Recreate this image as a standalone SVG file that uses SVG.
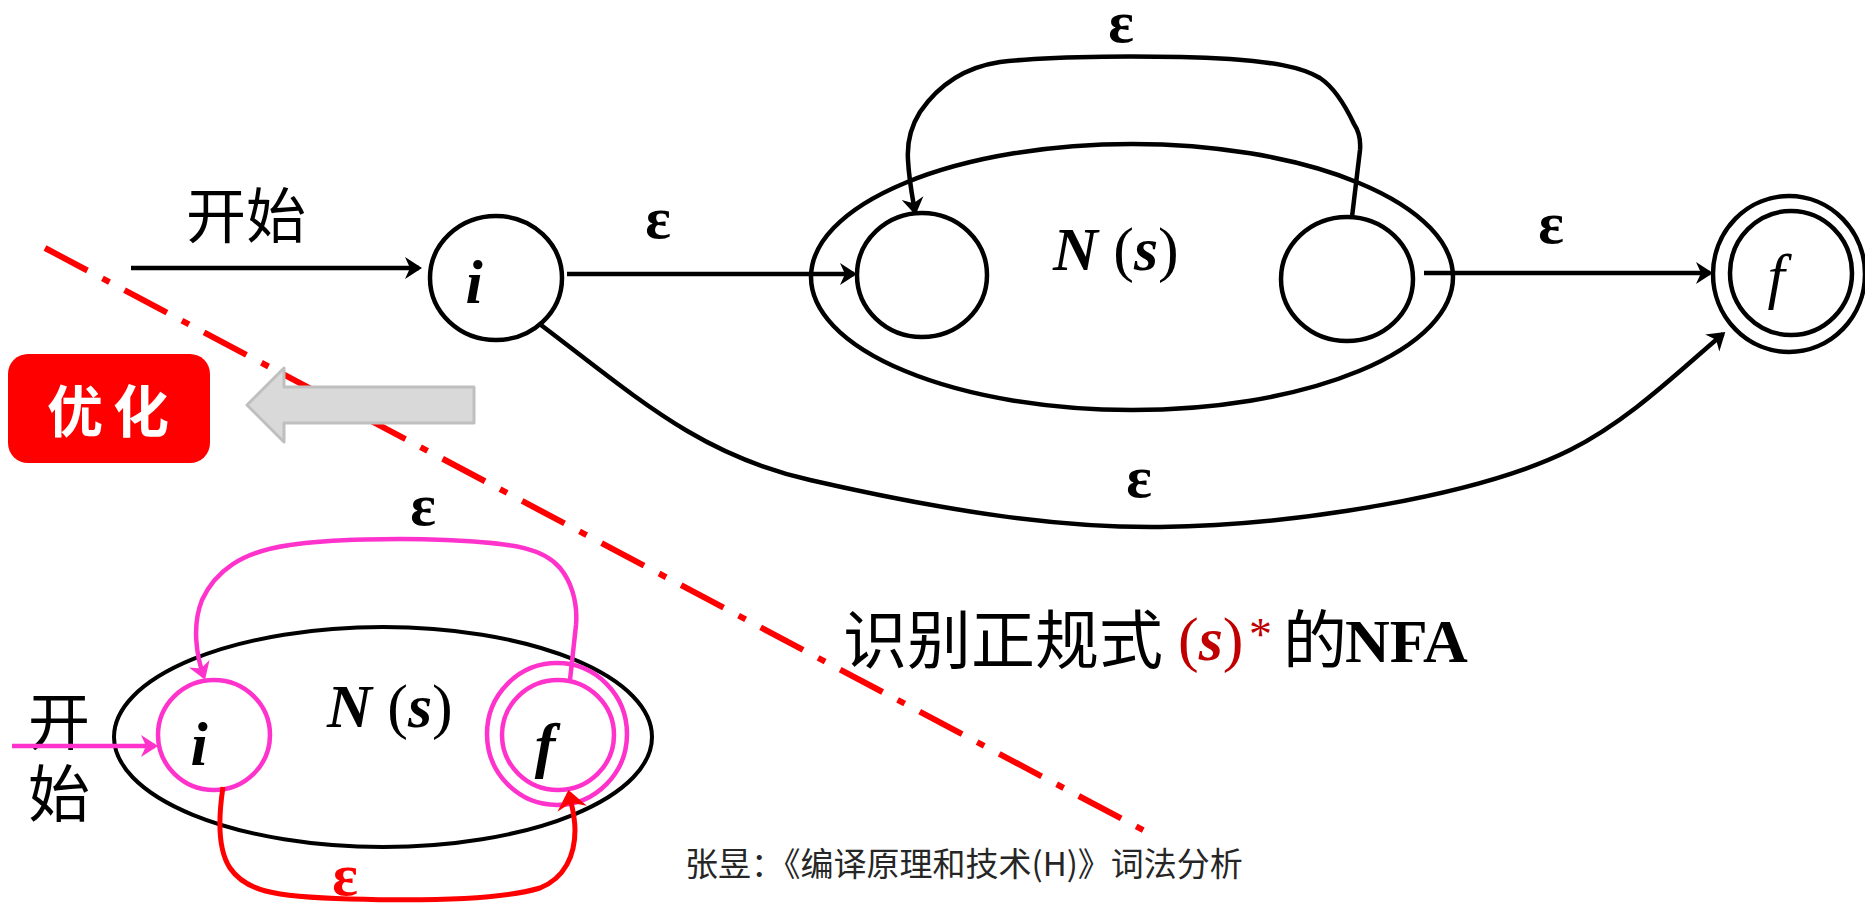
<svg xmlns="http://www.w3.org/2000/svg" width="1865" height="903" viewBox="0 0 1865 903">
<style>
.bk{fill:none;stroke:#000;stroke-width:4.5}
.pk{fill:none;stroke:#FF33CC;stroke-width:4.5}
.rd{fill:none;stroke:#FF0000;stroke-width:5}
.lat{font-family:"Liberation Serif","Times New Roman",serif}
.cjk{font-family:"Noto Sans CJK SC",sans-serif}
.eps{font-family:"Liberation Serif","Times New Roman",serif;font-weight:bold;font-size:60px;text-anchor:middle}
.bi{font-weight:bold;font-style:italic}
</style>
<defs>
<marker id="ab" markerUnits="userSpaceOnUse" markerWidth="30" markerHeight="30" refX="-3" refY="0" orient="auto" overflow="visible">
<path d="M0,0 L-17,-11 L-12,0 L-17,11 Z" fill="#000"/>
</marker>
<marker id="ap" markerUnits="userSpaceOnUse" markerWidth="30" markerHeight="30" refX="-3" refY="0" orient="auto" overflow="visible">
<path d="M0,0 L-17,-11 L-12,0 L-17,11 Z" fill="#FF33CC"/>
</marker>
<marker id="ar" markerUnits="userSpaceOnUse" markerWidth="30" markerHeight="30" refX="-3" refY="0" orient="auto" overflow="visible">
<path d="M0,0 L-19,-15 L-13,0 L-19,15 Z" fill="#FF0000"/>
</marker>
</defs>
<rect width="1865" height="903" fill="#fff"/>

<!-- divider -->
<line x1="45" y1="248" x2="1158" y2="838" stroke="#FF0000" stroke-width="6" stroke-dasharray="48 17 8 17"/>

<!-- optimise box and arrow -->
<g id="opt">
<rect x="8" y="354" width="202" height="109" rx="20" fill="#FF0000"/>
<text class="cjk" x="47" y="432" font-size="56" font-weight="bold" letter-spacing="10" fill="#fff">优化</text>
</g>
<g id="grey-arrow">
<polygon points="247,405 284,368 284,387 474,387 474,423 284,423 284,442" fill="#D9D9D9" stroke="#BFBFBF" stroke-width="3" stroke-linejoin="round"/>
</g>

<!-- upper NFA -->
<g id="ns-top">
<ellipse class="bk" cx="1132" cy="277" rx="321" ry="133"/>
<text class="lat" x="1053" y="270" font-size="62"><tspan class="bi">N</tspan> (<tspan class="bi">s</tspan>)</text>
</g>
<g id="node-i">
<ellipse class="bk" cx="496" cy="278" rx="66" ry="62"/>
<text class="lat bi" x="474" y="303" font-size="62" text-anchor="middle">i</text>
</g>
<g id="node-a">
<ellipse class="bk" cx="922" cy="275" rx="65" ry="62"/>
</g>
<g id="node-b">
<ellipse class="bk" cx="1347" cy="279" rx="66" ry="62"/>
</g>
<g id="node-f">
<ellipse class="bk" cx="1789" cy="274" rx="76" ry="78"/>
<ellipse class="bk" cx="1791" cy="273" rx="61" ry="62"/>
<text class="lat" x="1776" y="297" font-size="62" font-style="italic" text-anchor="middle">f</text>
</g>

<g id="labels-top">
<text class="cjk" x="186" y="238" font-size="60">开始</text>
<text class="eps" x="658" y="238">ε</text>
<text class="eps" x="1121" y="42">ε</text>
<text class="eps" x="1551" y="243">ε</text>
<text class="eps" x="1139" y="497">ε</text>
</g>

<!-- lower NFA -->
<g id="ns-bottom">
<ellipse fill="none" stroke="#000" stroke-width="4" cx="383" cy="737" rx="269" ry="110"/>
<text class="lat" x="327" y="727" font-size="62"><tspan class="bi">N</tspan> (<tspan class="bi">s</tspan>)</text>
</g>
<g id="node-i2">
<ellipse class="pk" cx="214" cy="735" rx="56" ry="55"/>
<text class="lat bi" x="199" y="765" font-size="62" text-anchor="middle">i</text>
</g>
<g id="node-f2">
<ellipse class="pk" cx="557" cy="734" rx="70" ry="71"/>
<ellipse class="pk" cx="558" cy="735" rx="56" ry="55"/>
<text class="lat bi" x="545" y="766" font-size="62" text-anchor="middle">f</text>
</g>
<g id="labels-bottom">
<text class="cjk" x="28" y="745" font-size="62">开</text>
<text class="cjk" x="28" y="817" font-size="62">始</text>
<text class="eps" x="423" y="525">ε</text>
<text class="eps" x="345" y="895" fill="#FF0000">ε</text>
</g>

<!-- connectors -->
<g id="connectors">
<line class="bk" x1="131" y1="268" x2="419" y2="268" marker-end="url(#ab)"/>
<line class="bk" x1="567" y1="274" x2="854" y2="274" marker-end="url(#ab)"/>
<line class="bk" x1="1424" y1="273" x2="1710" y2="273" marker-end="url(#ab)"/>
<path class="bk" d="M1352,217 L1360,150 C1361,138 1358,130 1354,124 C1345,105 1335,88 1320,78 C1300,66 1270,62 1230,59 C1150,55 1050,56 1000,62 C960,68 935,90 920,112 C910,128 907,145 908,160 C909,180 912,195 915,212" marker-end="url(#ab)"/>
<path class="bk" d="M541,325 C640,400 700,455 810,480 C950,512 1060,528 1160,527 C1300,525 1480,495 1570,450 C1630,420 1680,370 1723,334" marker-end="url(#ab)"/>
<line class="pk" x1="12" y1="746" x2="155" y2="746" marker-end="url(#ap)"/>
<path class="pk" d="M570,680 L576,625 C578,600 570,580 560,568 C545,550 520,543 446,540 C400,538 330,539 290,545 C240,552 215,572 202,600 C192,625 196,655 204,677" marker-end="url(#ap)"/>
<path class="rd" d="M223,787 C218,820 218,850 230,868 C245,890 270,897 350,899 C420,901 500,900 540,888 C565,878 575,855 575,830 C575,815 571,803 569,793" marker-end="url(#ar)"/>
</g>

<!-- caption -->
<g id="caption">
<text class="cjk" x="843" y="663" font-size="64">识别正规式</text>
<text class="lat" x="1178" y="660" font-size="62" fill="#C00000">(<tspan class="bi">s</tspan>)</text>
<text class="lat" x="1249" y="650" font-size="46" fill="#C00000">*</text>
<text class="cjk" x="1283" y="663" font-size="64">的</text>
<text class="lat" x="1345" y="662" font-size="62" font-weight="bold">NFA</text>
</g>
<text class="cjk" x="685" y="876" font-size="33" fill="#262626">张昱：《编译原理和技术(H)》词法分析</text>
</svg>
